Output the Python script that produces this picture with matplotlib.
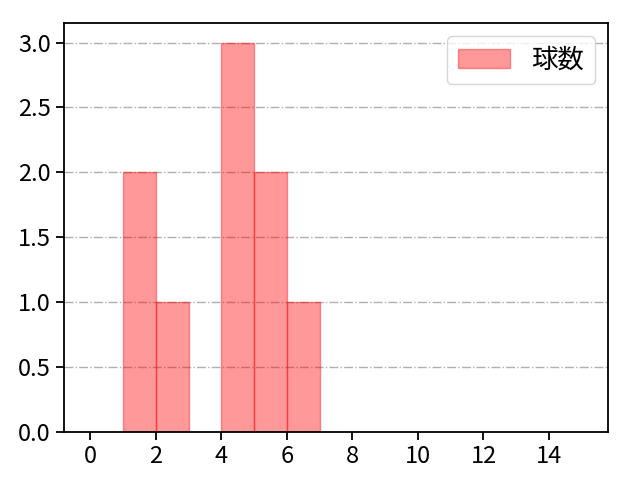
import matplotlib
matplotlib.use("Agg")
import matplotlib.pyplot as plt

plt.rcParams["font.family"] = ["Noto Sans CJK JP", "DejaVu Sans"]

# histogram bins (left edges) and counts
bin_left = [1, 2, 4, 5, 6]
counts = [2, 1, 3, 2, 1]
series_label = "球数"
x_ticks = [0, 2, 4, 6, 8, 10, 12, 14]
y_ticks = [0.0, 0.5, 1.0, 1.5, 2.0, 2.5, 3.0]


def main() -> None:
    fig = plt.figure(figsize=(6.4, 4.8), dpi=100)
    ax = fig.add_axes([0.1, 0.1, 0.85, 0.852])

    ax.bar(bin_left, counts, width=1, align="edge", color="red", alpha=0.4,
           edgecolor="red", linewidth=1, label=series_label)

    ax.set_xlim(-0.8, 15.8)
    ax.set_ylim(0, 3.15)
    ax.set_xticks(x_ticks)
    ax.set_yticks(y_ticks)
    ax.tick_params(labelsize=17, width=1.3, length=5.5, pad=4)
    for spine in ax.spines.values():
        spine.set_linewidth(1.3)
    ax.grid(axis="y", linestyle="-.", color="#b0b0b0", linewidth=1.0)
    ax.set_axisbelow(True)
    ax.legend(loc="upper right", fontsize=19)

    fig.savefig("out.png", dpi=100)
    plt.close(fig)


if __name__ == "__main__":
    main()
